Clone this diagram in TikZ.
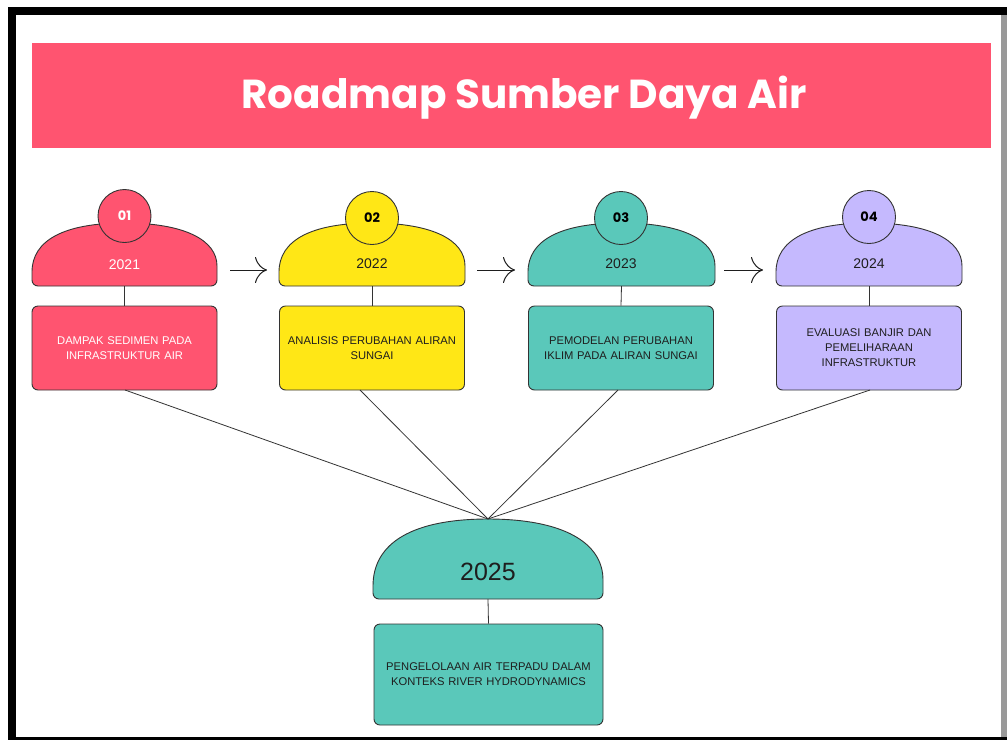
\documentclass[tikz,border=0pt]{standalone}
\usepackage{fontspec}
\setmainfont{Liberation Sans}
\newfontfamily\titlefont{Poppins}
\usetikzlibrary{arrows.meta}
\definecolor{cred}{HTML}{FF5470}
\definecolor{cyel}{HTML}{FFE716}
\definecolor{cteal}{HTML}{5AC8BA}
\definecolor{cpur}{HTML}{C5B9FE}
\definecolor{cline}{HTML}{333333}
\definecolor{ctxt}{HTML}{1E1E1E}
\definecolor{cgray}{HTML}{999999}
\newcommand{\dome}[7]{%
  \pgfmathsetmacro\dxc{(#2+#3)/2}%
  \pgfmathsetmacro\da{(#3-#2)/2*0.65}%
  \pgfmathsetmacro\db{(#5-#4)*0.65}%
  \draw[domeline, fill=#7] (#2,#5) {[rounded corners=6] -- (#2,#6) -- (#3,#6) -- (#3,#5)}
    .. controls (#3,#5-\db) and (\dxc+\da,#4) .. (\dxc,#4)
    .. controls (\dxc-\da,#4) and (#2,#5-\db) .. cycle;
  \coordinate (#1-top) at (\dxc,#4);
  \coordinate (#1-bot) at (\dxc,#6);
}
\tikzset{
  domeline/.style={draw=cline, line width=0.9pt},
  circ/.style={circle, draw=cline, line width=0.9pt, minimum size=53, inner sep=0pt,
    font=\titlefont\bfseries\fontsize{13}{14}\selectfont},
  box/.style={draw=cline, line width=0.9pt, rounded corners=6, minimum width=185,
    minimum height=84, align=center, text width=175, inner sep=0pt,
    font=\fontsize{11.2}{15}\selectfont},
  year/.style={font=\fontsize{14}{16}\selectfont},
  conn/.style={draw=cline, line width=0.8pt},
  arr/.style={draw=ctxt, line width=1pt, -{Computer Modern Rightarrow[length=12pt,width=26pt]}},
}
\begin{document}
\begin{tikzpicture}[x=1pt,y=-1pt]
\useasboundingbox (0,0) rectangle (1007,740);
% frame
\fill[black] (8,7) rectangle (1007,740);
\fill[white] (16,15) rectangle (1001,737);
\fill[cgray] (1001,15) rectangle (1007,737);
% title
\fill[cred] (32,43) rectangle (991,148);
\node[anchor=base, text=white, font=\titlefont\bfseries\fontsize{40.5}{44}\selectfont] (title) at (524,108) {Roadmap Sumber Daya Air};

% domes
\dome{d1}{32}{217}{223}{272}{286}{cred}
\dome{d2}{279}{465}{223}{272}{286}{cyel}
\dome{d3}{528}{715}{223}{272}{286}{cteal}
\dome{d4}{776}{962}{223}{272}{286}{cpur}
\dome{d5}{373}{603}{519}{586}{599}{cteal}

% circles
\node[circ, fill=cred, text=white] (c1) at (124.5,216) {01};
\node[circ, fill=cyel, text=black] (c2) at (372,218) {02};
\node[circ, fill=cteal, text=black] (c3) at (621,218) {03};
\node[circ, fill=cpur, text=black] (c4) at (869,217) {04};

% years
\node[year, text=white] (y1) at (124.5,265) {2021};
\node[year, text=ctxt] (y2) at (372,264) {2022};
\node[year, text=ctxt] (y3) at (621,264) {2023};
\node[year, text=ctxt] (y4) at (869,264) {2024};
\node[font=\fontsize{25}{28}\selectfont, text=ctxt] (y5) at (488,572) {2025};

% boxes
\node[box, fill=cred, text=white] (b1) at (124.5,348) {DAMPAK SEDIMEN PADA\\INFRASTRUKTUR AIR};
\node[box, fill=cyel, text=ctxt] (b2) at (372,348) {ANALISIS PERUBAHAN ALIRAN\\SUNGAI};
\node[box, fill=cteal, text=ctxt] (b3) at (621,348) {PEMODELAN PERUBAHAN\\IKLIM PADA ALIRAN SUNGAI};
\node[box, fill=cpur, text=ctxt] (b4) at (869,348) {EVALUASI BANJIR DAN\\PEMELIHARAAN\\INFRASTRUKTUR};
\node[box, fill=cteal, text=ctxt, minimum width=229, minimum height=101, text width=220] (b5) at (488.5,674.5) {PENGELOLAAN AIR TERPADU DALAM\\KONTEKS RIVER HYDRODYNAMICS};

% stems
\draw[conn] (d1-bot) -- (b1.north);
\draw[conn] (d2-bot) -- (b2.north);
\draw[conn] (d3-bot) -- (b3.north);
\draw[conn] (d4-bot) -- (b4.north);
\draw[conn] (d5-bot) -- (b5.north);

% converging lines
\coordinate (s1) at (125,390);
\coordinate (s2) at (360,390);
\coordinate (s3) at (618,390);
\coordinate (s4) at (870,390);
\draw[conn] (s1) -- (d5-top);
\draw[conn] (s2) -- (d5-top);
\draw[conn] (s3) -- (d5-top);
\draw[conn] (s4) -- (d5-top);

% arrows
\coordinate (a1s) at (230,270); \coordinate (a1e) at (267,270);
\coordinate (a2s) at (477,270); \coordinate (a2e) at (515,270);
\coordinate (a3s) at (724,270); \coordinate (a3e) at (763,270);
\draw[arr] (a1s) -- (a1e);
\draw[arr] (a2s) -- (a2e);
\draw[arr] (a3s) -- (a3e);
\end{tikzpicture}
\end{document}
